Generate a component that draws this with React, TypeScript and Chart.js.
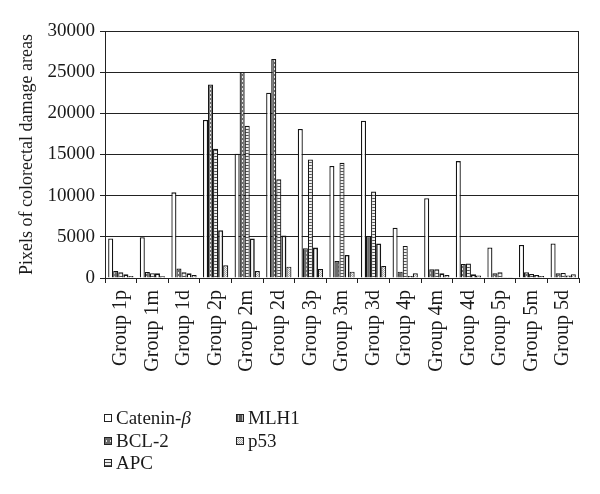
import { useEffect, useRef } from 'react';
import { Chart, registerables } from 'chart.js';

Chart.register(...registerables);

const categories = [
  'Group 1p', 'Group 1m', 'Group 1d',
  'Group 2p', 'Group 2m', 'Group 2d',
  'Group 3p', 'Group 3m', 'Group 3d',
  'Group 4p', 'Group 4m', 'Group 4d',
  'Group 5p', 'Group 5m', 'Group 5d',
];
const seriesNames = ['Catenin-β', 'BCL-2', 'APC', 'MLH1', 'p53'];
const catenin = [4800, 4950, 10400, 19200, 15100, 22500, 18100, 13600, 19100, 6100, 9700, 14200, 3700, 4000, 4200];
const bcl2 = [850, 730, 1150, 23500, 25000, 26600, 3600, 2050, 5100, 770, 1050, 1700, 570, 690, 570];
const apc = [700, 570, 700, 15700, 18500, 12000, 14400, 14000, 10500, 3900, 1050, 1750, 690, 490, 620];
const mlh1 = [450, 570, 570, 5800, 4800, 5150, 3700, 2800, 4200, 240, 570, 450, 80, 360, 300];
const p53 = [250, 200, 350, 1550, 850, 1380, 1100, 770, 1450, 570, 360, 290, 80, 240, 450];
const yMax = 30000;
const yStep = 5000;
const yTitle = 'Pixels of colorectal damage areas';

const FONT = "'Liberation Serif', 'Times New Roman', serif";

function pattern(w: number, h: number, draw: (c: CanvasRenderingContext2D) => void): CanvasPattern | string {
  const cv = document.createElement('canvas');
  cv.width = w;
  cv.height = h;
  const c = cv.getContext('2d');
  if (!c) return '#ccc';
  draw(c);
  const p = c.createPattern(cv, 'repeat');
  return p || '#ccc';
}

export default function App() {
  const ref = useRef<HTMLCanvasElement | null>(null);

  useEffect(() => {
    const canvas = ref.current;
    if (!canvas) return;

    const bclFill = pattern(4, 4, (c) => {
      c.fillStyle = '#6a6a6a';
      c.fillRect(0, 0, 4, 4);
      c.fillStyle = '#e8e8e8';
      c.fillRect(2, 0, 1, 2);
    });
    const apcFill = pattern(3, 3, (c) => {
      c.fillStyle = '#f2f2f2';
      c.fillRect(0, 0, 3, 3);
      c.fillStyle = '#555';
      c.fillRect(0, 0, 3, 1);
    });
    const p53Fill = pattern(2, 2, (c) => {
      c.fillStyle = '#f2f2f2';
      c.fillRect(0, 0, 2, 2);
      c.fillStyle = '#a8a8a8';
      c.fillRect(0, 0, 1, 1);
      c.fillRect(1, 1, 1, 1);
    });
    const mlhLegend = pattern(4, 4, (c) => {
      c.fillStyle = '#555';
      c.fillRect(0, 0, 4, 4);
      c.fillStyle = '#bbb';
      c.fillRect(2, 0, 1, 4);
    });

    const fills = ['#ffffff', bclFill, apcFill, '#fafafa', p53Fill];
    const legendFills = ['#ffffff', bclFill, apcFill, mlhLegend, p53Fill];
    const widths = [1.3, 1.2, 1.2, 1.6, 1.2];
    const values = [catenin, bcl2, apc, mlh1, p53];

    const legendPlugin = {
      id: 'customLegend',
      afterDraw(chart: Chart) {
        const ctx = chart.ctx;
        const pos = [
          [104, 418], [104, 441], [104, 463], [236, 418], [236, 441],
        ];
        ctx.save();
        chart.data.datasets.forEach((ds, i) => {
          const [x, y] = pos[i];
          ctx.fillStyle = legendFills[i] as any;
          ctx.fillRect(x, y - 4, 8, 8);
          ctx.strokeStyle = '#222';
          ctx.lineWidth = 1;
          ctx.strokeRect(x + 0.5, y - 3.5, 7, 7);
          ctx.fillStyle = '#1a1a1a';
          ctx.textBaseline = 'middle';
          ctx.textAlign = 'left';
          const label = String(ds.label);
          let tx = x + 12;
          if (label.endsWith('β')) {
            const head = label.slice(0, -1);
            ctx.font = `19px ${FONT}`;
            ctx.fillText(head, tx, y + 1);
            tx += ctx.measureText(head).width;
            ctx.font = `italic 19px ${FONT}`;
            ctx.fillText('β', tx, y + 1);
          } else {
            ctx.font = `19px ${FONT}`;
            ctx.fillText(label, tx, y + 1);
          }
        });
        ctx.restore();
      },
    };

    const framePlugin = {
      id: 'frame',
      afterDatasetsDraw(chart: Chart) {
        const { ctx, chartArea } = chart;
        ctx.save();
        ctx.strokeStyle = '#222';
        ctx.lineWidth = 1;
        ctx.beginPath();
        ctx.moveTo(Math.round(chartArea.right) - 0.5, chartArea.top);
        ctx.lineTo(Math.round(chartArea.right) - 0.5, chartArea.bottom);
        ctx.stroke();
        ctx.restore();
      },
    };

    const chart = new Chart(canvas, {
      type: 'bar',
      data: {
        labels: categories,
        datasets: seriesNames.map((name, i) => ({
          label: name,
          data: values[i],
          backgroundColor: fills[i] as any,
          borderColor: '#141414',
          borderWidth: widths[i],
          categoryPercentage: 0.8,
          barPercentage: 1.0,
        })),
      },
      options: {
        animation: false,
        responsive: false,
        maintainAspectRatio: false,
        devicePixelRatio: 1,
        layout: { padding: { top: 31, right: 21, left: 0, bottom: 0 } },
        plugins: {
          legend: { display: false },
          tooltip: { enabled: false },
        },
        scales: {
          x: {
            offset: true,
            grid: {
              offset: true,
              drawOnChartArea: false,
              drawTicks: true,
              tickLength: 5,
              color: '#222',
            },
            border: { display: true, color: '#222', width: 1 },
            ticks: {
              color: '#1a1a1a',
              font: { family: FONT, size: 20 },
              minRotation: 90,
              maxRotation: 90,
              padding: 7,
              autoSkip: false,
            },
            afterFit(scale: any) {
              scale.height = 216;
            },
          },
          y: {
            min: 0,
            max: yMax,
            grid: {
              color: '#222',
              lineWidth: 1,
              tickLength: 5,
            },
            border: { display: true, color: '#222', width: 1 },
            ticks: {
              stepSize: yStep,
              color: '#1a1a1a',
              font: { family: FONT, size: 19 },
              padding: 5,
              callback: (v: any) => String(v),
            },
            title: {
              display: true,
              text: yTitle,
              color: '#1a1a1a',
              font: { family: FONT, size: 18 },
              padding: { top: 16, bottom: 0 },
            },
            afterFit(scale: any) {
              scale.width = 105;
            },
          },
        },
      },
      plugins: [legendPlugin, framePlugin],
    });

    return () => chart.destroy();
  }, []);

  return (
    <div style={{ position: 'fixed', left: 0, top: 0, width: 600, height: 494, background: '#fff' }}>
      <canvas ref={ref} width={600} height={494} style={{ width: 600, height: 494, display: 'block' }} />
    </div>
  );
}
